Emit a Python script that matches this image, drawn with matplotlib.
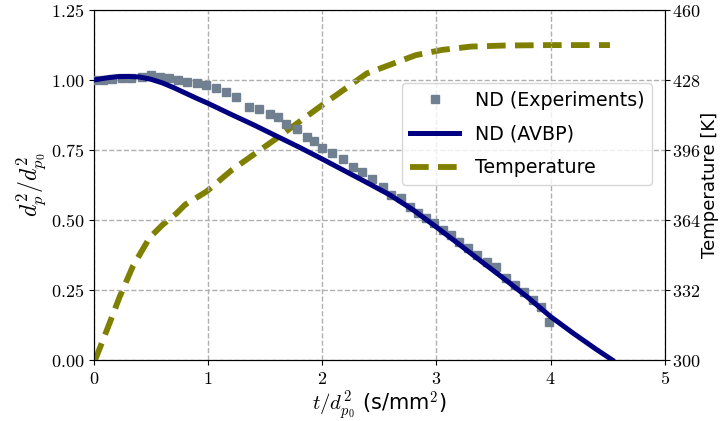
import matplotlib
matplotlib.use("Agg")
import matplotlib.pyplot as plt
from matplotlib.ticker import FuncFormatter

plt.rcParams['mathtext.fontset'] = 'cm'
plt.rcParams['font.family'] = ['DejaVu Sans']

# Experimental data (normalized squared diameter)
t_exp = [0.0, 0.08, 0.16, 0.25, 0.33, 0.42, 0.5, 0.58, 0.66, 0.74, 0.82, 0.9, 0.98,
         1.07, 1.16, 1.25, 1.36, 1.45, 1.54, 1.61, 1.68, 1.78, 1.87, 1.93, 2.0, 2.09,
         2.18, 2.27, 2.35, 2.44, 2.53, 2.6, 2.69, 2.77, 2.84, 2.91, 2.98, 3.06, 3.13,
         3.2, 3.28, 3.36, 3.44, 3.52, 3.61, 3.69, 3.77, 3.85, 3.92, 3.99]
d_exp = [1.0, 1.002, 1.004, 1.006, 1.008, 1.011, 1.018, 1.012, 1.006, 1.0, 0.994, 0.989,
         0.983, 0.973, 0.958, 0.94, 0.905, 0.895, 0.879, 0.867, 0.843, 0.826, 0.798,
         0.782, 0.757, 0.738, 0.718, 0.69, 0.67, 0.646, 0.618, 0.59, 0.577, 0.548,
         0.524, 0.506, 0.488, 0.466, 0.448, 0.423, 0.399, 0.375, 0.351, 0.331, 0.292,
         0.268, 0.244, 0.214, 0.19, 0.136]

# AVBP simulation
t_avbp = [0.0, 0.1, 0.2, 0.3, 0.4, 0.5, 0.6, 0.7, 0.8, 0.9, 1.0, 1.2, 1.4, 1.6, 1.8,
          2.0, 2.2, 2.4, 2.6, 2.8, 2.9, 3.0, 3.2, 3.4, 3.6, 3.8, 4.0, 4.2, 4.4, 4.54]
d_avbp = [1.0, 1.007, 1.012, 1.013, 1.011, 1.003, 0.99, 0.973, 0.954, 0.935, 0.917,
          0.878, 0.84, 0.8, 0.76, 0.718, 0.675, 0.632, 0.588, 0.535, 0.505, 0.475,
          0.413, 0.35, 0.288, 0.224, 0.155, 0.095, 0.038, 0.0]

# Droplet temperature
t_temp = [0.0, 0.02, 0.125, 0.228, 0.344, 0.49, 0.607, 0.724, 0.8, 0.987, 1.21, 1.6,
          1.98, 2.39, 2.62, 2.82, 3.05, 3.3, 3.6, 4.0, 4.52]
T_temp = [300, 301, 315, 329, 343, 356, 362, 367, 371, 377, 386.9, 401.3, 415.8, 431,
          435.5, 439.4, 441.8, 443.3, 443.8, 444, 444]

x_ticks = [0, 1, 2, 3, 4, 5]
y_ticks = [0.0, 0.25, 0.5, 0.75, 1.0, 1.25]
T_ticks = [300, 332, 364, 396, 428, 460]

fig = plt.figure(figsize=(7.21, 4.21), dpi=100)
ax = fig.add_axes([0.130, 0.145, 0.792, 0.831])
ax2 = ax.twinx()

h1, = ax.plot(t_exp, d_exp, linestyle='none', marker='s', markersize=6,
              color='#708090', label='ND (Experiments)', zorder=3)
h2, = ax.plot(t_avbp, d_avbp, color='#000080', linewidth=3.6, label='ND (AVBP)', zorder=4)
h3, = ax2.plot(t_temp, T_temp, color='#808000', linewidth=4.2, linestyle=(0, (3.2, 1.6)),
               label='Temperature')

ax.set_xlim(0, 5)
ax.set_ylim(0, 1.25)
ax2.set_ylim(300, 460)
ax.set_xticks(x_ticks)
ax.set_yticks(y_ticks)
ax2.set_yticks(T_ticks)
ax.xaxis.set_major_formatter(FuncFormatter(lambda v, p: r'$%d$' % v))
ax.yaxis.set_major_formatter(FuncFormatter(lambda v, p: r'$%.2f$' % v))
ax2.yaxis.set_major_formatter(FuncFormatter(lambda v, p: r'$%d$' % v))
for a in (ax, ax2):
    a.tick_params(labelsize=13)
ax2.tick_params(pad=2)

ax.grid(True, linestyle='--', color='#b0b0b0', linewidth=1.0)
ax.set_axisbelow(True)

ax.set_xlabel(r'$t/d_{p_0}^2$ (s/mm$^2$)', fontsize=15, labelpad=1)
ax.set_ylabel(r'$d_p^2/d_{p_0}^2$', fontsize=17, labelpad=2)
ax2.set_ylabel('Temperature [K]', fontsize=13, labelpad=0)

ax.set_zorder(ax2.get_zorder() + 1)
ax.patch.set_visible(False)

leg = ax.legend(handles=[h1, h2, h3], loc='lower right', bbox_to_anchor=(0.977, 0.5),
                borderaxespad=0, fontsize=13.7, handlelength=2.6, labelspacing=0.78,
                framealpha=0.8)

fig.savefig('out.png', dpi=100)
